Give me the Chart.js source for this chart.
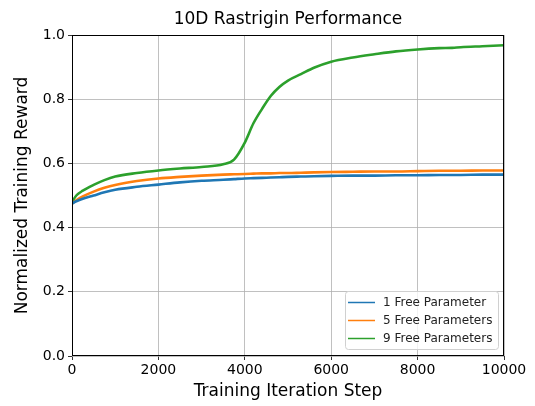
<!DOCTYPE html>
<html>
<head>
<meta charset="utf-8">
<script src="https://cdn.jsdelivr.net/npm/chart.js@4"></script>
<style>
  html, body { margin: 0; padding: 0; background: #fff; }
  #wrap { width: 535px; height: 406px; }
</style>
</head>
<body>
<div id="wrap"><canvas id="myChart" width="535" height="406"></canvas></div>
<script>
const steps = [0, 100, 250, 500, 750, 1000, 1500, 2000, 2500, 3000, 3500, 3750, 4000, 4200, 4400, 4600, 4800, 5000, 5300, 5600, 6000, 6500, 7000, 7500, 8000, 8500, 8800, 9000, 9500, 10000];
const oneParam = [0.475, 0.482, 0.490, 0.500, 0.510, 0.518, 0.527, 0.534, 0.541, 0.546, 0.549, 0.551, 0.553, 0.554, 0.555, 0.556, 0.557, 0.558, 0.559, 0.560, 0.561, 0.562, 0.562, 0.563, 0.563, 0.564, 0.564, 0.564, 0.565, 0.565];
const fiveParams = [0.475, 0.485, 0.497, 0.512, 0.524, 0.533, 0.545, 0.553, 0.558, 0.562, 0.565, 0.566, 0.567, 0.568, 0.569, 0.569, 0.570, 0.570, 0.571, 0.572, 0.573, 0.574, 0.575, 0.575, 0.576, 0.577, 0.577, 0.577, 0.578, 0.578];
const nineParams = [0.480, 0.500, 0.515, 0.533, 0.548, 0.559, 0.570, 0.578, 0.584, 0.589, 0.597, 0.612, 0.665, 0.725, 0.770, 0.810, 0.838, 0.858, 0.878, 0.898, 0.917, 0.930, 0.940, 0.949, 0.955, 0.959, 0.960, 0.962, 0.965, 0.968];
const seriesNames = ["1 Free Parameter", "5 Free Parameters", "9 Free Parameters"];
const colors = ["#1f77b4", "#ff7f0e", "#2ca02c"];
const xTicks = [0, 2000, 4000, 6000, 8000, 10000];
const yTicks = [0, 0.2, 0.4, 0.6, 0.8, 1.0];
const titleText = "10D Rastrigin Performance";

const font = "'DejaVu Sans', sans-serif";
Chart.defaults.font.family = font;
Chart.defaults.color = "#000";

function toPoints(vals) {
  return steps.map((s, i) => ({ x: s, y: vals[i] }));
}

// title over the plot area, box around the plot, legend in the lower right
const framePlugin = {
  id: "frame",
  afterDraw(chart) {
    const { ctx, chartArea: a } = chart;
    ctx.save();
    ctx.fillStyle = "#000";
    ctx.font = "17px " + font;
    ctx.textAlign = "center";
    ctx.textBaseline = "middle";
    ctx.fillText(titleText, (a.left + a.right) / 2, 20);

    ctx.strokeStyle = "#000";
    ctx.lineWidth = 1;
    ctx.strokeRect(a.left + 0.5, a.top + 0.5, a.right - a.left - 1, a.bottom - a.top - 1);

    const bx = 345, by = 291, bw = 153, bh = 58;
    ctx.fillStyle = "rgba(255,255,255,0.8)";
    ctx.strokeStyle = "#d0d0d0";
    ctx.beginPath();
    ctx.roundRect(bx + 0.5, by + 0.5, bw, bh, 3);
    ctx.fill();
    ctx.stroke();
    ctx.font = "12px " + font;
    ctx.textAlign = "left";
    chart.data.datasets.forEach((ds, i) => {
      const y = by + 11.5 + i * 18;
      ctx.strokeStyle = ds.borderColor;
      ctx.lineWidth = 1.5;
      ctx.beginPath();
      ctx.moveTo(bx + 3, y);
      ctx.lineTo(bx + 30, y);
      ctx.stroke();
      ctx.fillStyle = "#222";
      ctx.fillText(ds.label, bx + 38, y);
    });
    ctx.restore();
  }
};

new Chart(document.getElementById("myChart"), {
  type: "line",
  data: {
    datasets: [oneParam, fiveParams, nineParams].map((vals, i) => ({
      label: seriesNames[i],
      data: toPoints(vals),
      borderColor: colors[i],
      backgroundColor: colors[i],
      borderWidth: 2.6,
      pointRadius: 0,
      cubicInterpolationMode: "monotone"
    }))
  },
  options: {
    responsive: false,
    animation: false,
    layout: { padding: { left: 0, right: 31, top: 35, bottom: 0 } },
    plugins: {
      legend: { display: false },
      tooltip: { enabled: false },
      title: { display: false }
    },
    scales: {
      x: {
        type: "linear",
        min: 0,
        max: 10000,
        afterFit(scale) { scale.height = 50; },
        afterBuildTicks(scale) {
          scale.ticks = xTicks.map(v => ({ value: v }));
        },
        ticks: { font: { size: 14 }, color: "#000", padding: 2, maxRotation: 0, callback: v => String(v) },
        grid: { color: "#b0b0b0", lineWidth: 0.8, tickColor: "#000", tickLength: 4 },
        border: { display: false },
        title: { display: true, text: "Training Iteration Step", font: { size: 17 }, color: "#000", padding: { top: 0, bottom: 4 } }
      },
      y: {
        min: 0,
        max: 1,
        afterFit(scale) { scale.width = 72; },
        afterBuildTicks(scale) {
          scale.ticks = yTicks.map(v => ({ value: v }));
        },
        ticks: { font: { size: 14 }, color: "#000", padding: 3, callback: v => v.toFixed(1) },
        grid: { color: "#b0b0b0", lineWidth: 0.8, tickColor: "#000", tickLength: 4 },
        border: { display: false },
        title: { display: true, text: "Normalized Training Reward", font: { size: 17 }, color: "#000", padding: { top: 12, bottom: 0 } }
      }
    }
  },
  plugins: [framePlugin]
});
</script>
</body>
</html>
